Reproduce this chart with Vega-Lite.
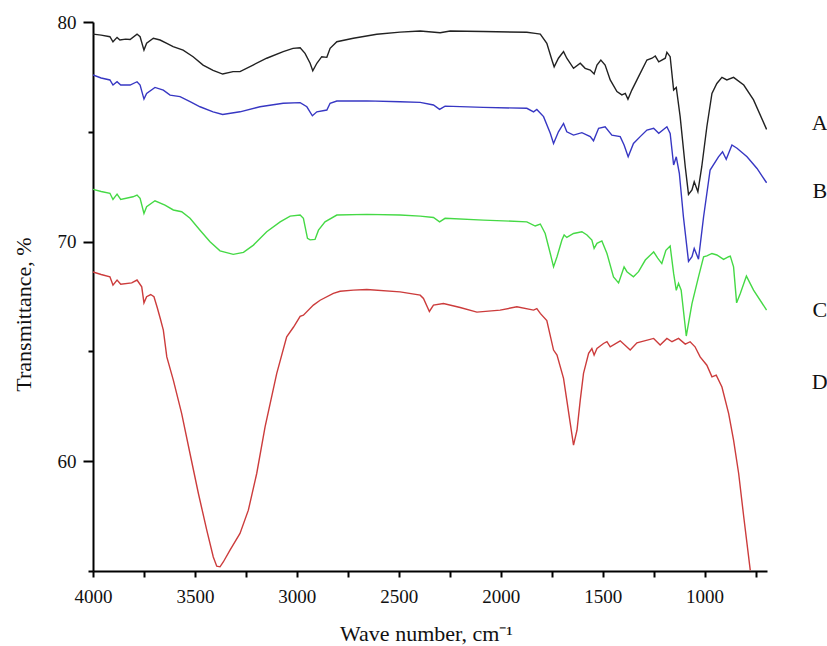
{
  "$schema": "https://vega.github.io/schema/vega-lite/v6.json",
  "width": 674,
  "height": 549,
  "autosize": {"type": "none"},
  "padding": {"left": 93, "top": 22, "right": 60, "bottom": 75},
  "background": "white",
  "config": {
    "view": {"stroke": null},
    "font": "Liberation Serif",
    "axis": {"labelFont": "Liberation Serif", "titleFont": "Liberation Serif"},
    "text": {"font": "Liberation Serif"}
  },
  "datasets": {
    "spectra": [
      {"s":"A","w":4000,"t":79.45},{"s":"A","w":3960,"t":79.40},{"s":"A","w":3917,"t":79.33},{"s":"A","w":3902,"t":79.10},{"s":"A","w":3882,"t":79.30},{"s":"A","w":3868,"t":79.18},{"s":"A","w":3840,"t":79.22},{"s":"A","w":3818,"t":79.20},{"s":"A","w":3784,"t":79.45},{"s":"A","w":3769,"t":79.33},{"s":"A","w":3750,"t":78.72},{"s":"A","w":3737,"t":79.03},{"s":"A","w":3704,"t":79.26},{"s":"A","w":3671,"t":79.18},{"s":"A","w":3638,"t":79.03},{"s":"A","w":3607,"t":78.88},{"s":"A","w":3558,"t":78.72},{"s":"A","w":3509,"t":78.42},{"s":"A","w":3460,"t":78.04},{"s":"A","w":3411,"t":77.80},{"s":"A","w":3364,"t":77.63},{"s":"A","w":3313,"t":77.74},{"s":"A","w":3279,"t":77.74},{"s":"A","w":3215,"t":78.04},{"s":"A","w":3148,"t":78.35},{"s":"A","w":3067,"t":78.65},{"s":"A","w":3019,"t":78.80},{"s":"A","w":2984,"t":78.83},{"s":"A","w":2960,"t":78.57},{"s":"A","w":2935,"t":78.12},{"s":"A","w":2922,"t":77.78},{"s":"A","w":2902,"t":78.12},{"s":"A","w":2878,"t":78.42},{"s":"A","w":2853,"t":78.39},{"s":"A","w":2837,"t":78.80},{"s":"A","w":2804,"t":79.10},{"s":"A","w":2723,"t":79.26},{"s":"A","w":2608,"t":79.44},{"s":"A","w":2494,"t":79.54},{"s":"A","w":2395,"t":79.59},{"s":"A","w":2297,"t":79.51},{"s":"A","w":2248,"t":79.59},{"s":"A","w":2086,"t":79.57},{"s":"A","w":1872,"t":79.53},{"s":"A","w":1831,"t":79.48},{"s":"A","w":1806,"t":79.45},{"s":"A","w":1774,"t":79.03},{"s":"A","w":1749,"t":78.27},{"s":"A","w":1738,"t":77.96},{"s":"A","w":1717,"t":78.35},{"s":"A","w":1692,"t":78.65},{"s":"A","w":1676,"t":78.35},{"s":"A","w":1643,"t":77.89},{"s":"A","w":1610,"t":78.12},{"s":"A","w":1586,"t":77.89},{"s":"A","w":1561,"t":77.81},{"s":"A","w":1542,"t":77.63},{"s":"A","w":1528,"t":78.04},{"s":"A","w":1509,"t":78.27},{"s":"A","w":1488,"t":78.04},{"s":"A","w":1463,"t":77.36},{"s":"A","w":1430,"t":76.83},{"s":"A","w":1406,"t":76.68},{"s":"A","w":1389,"t":76.75},{"s":"A","w":1376,"t":76.48},{"s":"A","w":1357,"t":76.90},{"s":"A","w":1324,"t":77.51},{"s":"A","w":1283,"t":78.27},{"s":"A","w":1258,"t":78.35},{"s":"A","w":1242,"t":78.45},{"s":"A","w":1225,"t":78.19},{"s":"A","w":1193,"t":78.35},{"s":"A","w":1185,"t":78.62},{"s":"A","w":1169,"t":78.42},{"s":"A","w":1152,"t":76.90},{"s":"A","w":1139,"t":77.02},{"s":"A","w":1120,"t":75.69},{"s":"A","w":1095,"t":73.41},{"s":"A","w":1079,"t":72.15},{"s":"A","w":1062,"t":72.35},{"s":"A","w":1051,"t":72.72},{"s":"A","w":1033,"t":72.27},{"s":"A","w":1014,"t":73.41},{"s":"A","w":989,"t":75.23},{"s":"A","w":964,"t":76.75},{"s":"A","w":940,"t":77.20},{"s":"A","w":915,"t":77.48},{"s":"A","w":891,"t":77.36},{"s":"A","w":858,"t":77.48},{"s":"A","w":808,"t":77.13},{"s":"A","w":760,"t":76.45},{"s":"A","w":696,"t":75.11},
      {"s":"B","w":4000,"t":77.59},{"s":"B","w":3960,"t":77.45},{"s":"B","w":3917,"t":77.36},{"s":"B","w":3902,"t":77.13},{"s":"B","w":3882,"t":77.28},{"s":"B","w":3864,"t":77.13},{"s":"B","w":3818,"t":77.13},{"s":"B","w":3784,"t":77.28},{"s":"B","w":3769,"t":77.13},{"s":"B","w":3750,"t":76.49},{"s":"B","w":3737,"t":76.75},{"s":"B","w":3696,"t":77.02},{"s":"B","w":3655,"t":76.90},{"s":"B","w":3622,"t":76.67},{"s":"B","w":3573,"t":76.60},{"s":"B","w":3524,"t":76.37},{"s":"B","w":3475,"t":76.14},{"s":"B","w":3411,"t":75.91},{"s":"B","w":3364,"t":75.79},{"s":"B","w":3279,"t":75.91},{"s":"B","w":3181,"t":76.14},{"s":"B","w":3067,"t":76.30},{"s":"B","w":2984,"t":76.33},{"s":"B","w":2951,"t":76.14},{"s":"B","w":2924,"t":75.73},{"s":"B","w":2902,"t":75.91},{"s":"B","w":2853,"t":75.99},{"s":"B","w":2837,"t":76.30},{"s":"B","w":2804,"t":76.40},{"s":"B","w":2657,"t":76.41},{"s":"B","w":2494,"t":76.37},{"s":"B","w":2395,"t":76.34},{"s":"B","w":2330,"t":76.22},{"s":"B","w":2300,"t":76.02},{"s":"B","w":2273,"t":76.17},{"s":"B","w":2085,"t":76.11},{"s":"B","w":1872,"t":76.07},{"s":"B","w":1839,"t":75.91},{"s":"B","w":1823,"t":76.02},{"s":"B","w":1790,"t":75.69},{"s":"B","w":1757,"t":74.93},{"s":"B","w":1741,"t":74.47},{"s":"B","w":1717,"t":75.00},{"s":"B","w":1692,"t":75.38},{"s":"B","w":1676,"t":75.00},{"s":"B","w":1643,"t":74.85},{"s":"B","w":1602,"t":74.96},{"s":"B","w":1561,"t":74.78},{"s":"B","w":1545,"t":74.59},{"s":"B","w":1520,"t":75.16},{"s":"B","w":1488,"t":75.23},{"s":"B","w":1455,"t":74.85},{"s":"B","w":1414,"t":74.78},{"s":"B","w":1395,"t":74.40},{"s":"B","w":1375,"t":73.86},{"s":"B","w":1349,"t":74.47},{"s":"B","w":1316,"t":74.78},{"s":"B","w":1283,"t":75.08},{"s":"B","w":1250,"t":75.16},{"s":"B","w":1225,"t":74.93},{"s":"B","w":1185,"t":75.23},{"s":"B","w":1169,"t":74.93},{"s":"B","w":1152,"t":73.49},{"s":"B","w":1139,"t":73.86},{"s":"B","w":1124,"t":73.11},{"s":"B","w":1104,"t":71.13},{"s":"B","w":1079,"t":69.10},{"s":"B","w":1062,"t":69.31},{"s":"B","w":1051,"t":69.69},{"s":"B","w":1030,"t":69.20},{"s":"B","w":1005,"t":71.13},{"s":"B","w":973,"t":73.26},{"s":"B","w":932,"t":73.86},{"s":"B","w":912,"t":74.09},{"s":"B","w":894,"t":73.75},{"s":"B","w":866,"t":74.40},{"s":"B","w":841,"t":74.25},{"s":"B","w":792,"t":73.86},{"s":"B","w":743,"t":73.33},{"s":"B","w":696,"t":72.68},
      {"s":"C","w":4000,"t":72.38},{"s":"C","w":3960,"t":72.28},{"s":"C","w":3917,"t":72.20},{"s":"C","w":3902,"t":71.92},{"s":"C","w":3882,"t":72.16},{"s":"C","w":3864,"t":71.92},{"s":"C","w":3804,"t":72.04},{"s":"C","w":3784,"t":72.12},{"s":"C","w":3769,"t":71.97},{"s":"C","w":3750,"t":71.28},{"s":"C","w":3737,"t":71.59},{"s":"C","w":3696,"t":71.86},{"s":"C","w":3647,"t":71.66},{"s":"C","w":3606,"t":71.44},{"s":"C","w":3565,"t":71.36},{"s":"C","w":3524,"t":71.06},{"s":"C","w":3475,"t":70.52},{"s":"C","w":3426,"t":69.99},{"s":"C","w":3377,"t":69.58},{"s":"C","w":3312,"t":69.42},{"s":"C","w":3262,"t":69.51},{"s":"C","w":3213,"t":69.84},{"s":"C","w":3148,"t":70.45},{"s":"C","w":3082,"t":70.90},{"s":"C","w":3033,"t":71.16},{"s":"C","w":2984,"t":71.21},{"s":"C","w":2968,"t":71.06},{"s":"C","w":2948,"t":70.15},{"s":"C","w":2935,"t":70.08},{"s":"C","w":2911,"t":70.10},{"s":"C","w":2894,"t":70.52},{"s":"C","w":2862,"t":70.90},{"s":"C","w":2804,"t":71.21},{"s":"C","w":2657,"t":71.24},{"s":"C","w":2494,"t":71.21},{"s":"C","w":2395,"t":71.16},{"s":"C","w":2330,"t":71.10},{"s":"C","w":2300,"t":70.90},{"s":"C","w":2273,"t":71.06},{"s":"C","w":2085,"t":70.98},{"s":"C","w":1872,"t":70.90},{"s":"C","w":1831,"t":70.71},{"s":"C","w":1806,"t":70.80},{"s":"C","w":1782,"t":70.37},{"s":"C","w":1757,"t":69.46},{"s":"C","w":1741,"t":68.85},{"s":"C","w":1724,"t":69.31},{"s":"C","w":1700,"t":70.07},{"s":"C","w":1689,"t":70.30},{"s":"C","w":1676,"t":70.19},{"s":"C","w":1643,"t":70.37},{"s":"C","w":1602,"t":70.45},{"s":"C","w":1577,"t":70.30},{"s":"C","w":1553,"t":70.07},{"s":"C","w":1542,"t":69.69},{"s":"C","w":1528,"t":69.92},{"s":"C","w":1504,"t":70.03},{"s":"C","w":1479,"t":69.46},{"s":"C","w":1447,"t":68.39},{"s":"C","w":1422,"t":68.12},{"s":"C","w":1406,"t":68.55},{"s":"C","w":1395,"t":68.85},{"s":"C","w":1381,"t":68.63},{"s":"C","w":1349,"t":68.40},{"s":"C","w":1324,"t":68.63},{"s":"C","w":1291,"t":69.16},{"s":"C","w":1258,"t":69.46},{"s":"C","w":1250,"t":69.53},{"s":"C","w":1230,"t":69.25},{"s":"C","w":1210,"t":69.00},{"s":"C","w":1190,"t":69.60},{"s":"C","w":1169,"t":69.80},{"s":"C","w":1152,"t":68.55},{"s":"C","w":1139,"t":67.78},{"s":"C","w":1128,"t":68.10},{"s":"C","w":1115,"t":67.79},{"s":"C","w":1090,"t":65.70},{"s":"C","w":1062,"t":67.18},{"s":"C","w":1030,"t":68.39},{"s":"C","w":1005,"t":69.31},{"s":"C","w":989,"t":69.35},{"s":"C","w":964,"t":69.46},{"s":"C","w":940,"t":69.39},{"s":"C","w":907,"t":69.19},{"s":"C","w":882,"t":69.31},{"s":"C","w":874,"t":69.34},{"s":"C","w":858,"t":68.85},{"s":"C","w":843,"t":67.21},{"s":"C","w":825,"t":67.64},{"s":"C","w":795,"t":68.43},{"s":"C","w":760,"t":67.79},{"s":"C","w":696,"t":66.88},
      {"s":"D","w":4000,"t":68.62},{"s":"D","w":3960,"t":68.50},{"s":"D","w":3917,"t":68.40},{"s":"D","w":3902,"t":68.02},{"s":"D","w":3882,"t":68.25},{"s":"D","w":3864,"t":68.06},{"s":"D","w":3810,"t":68.12},{"s":"D","w":3784,"t":68.25},{"s":"D","w":3761,"t":67.94},{"s":"D","w":3750,"t":67.21},{"s":"D","w":3737,"t":67.49},{"s":"D","w":3717,"t":67.59},{"s":"D","w":3701,"t":67.49},{"s":"D","w":3685,"t":67.00},{"s":"D","w":3670,"t":66.50},{"s":"D","w":3655,"t":65.97},{"s":"D","w":3638,"t":64.75},{"s":"D","w":3606,"t":63.69},{"s":"D","w":3565,"t":62.17},{"s":"D","w":3524,"t":60.34},{"s":"D","w":3483,"t":58.53},{"s":"D","w":3442,"t":56.86},{"s":"D","w":3410,"t":55.64},{"s":"D","w":3393,"t":55.22},{"s":"D","w":3377,"t":55.19},{"s":"D","w":3361,"t":55.41},{"s":"D","w":3328,"t":55.95},{"s":"D","w":3279,"t":56.71},{"s":"D","w":3238,"t":57.77},{"s":"D","w":3197,"t":59.44},{"s":"D","w":3156,"t":61.56},{"s":"D","w":3099,"t":63.99},{"s":"D","w":3050,"t":65.66},{"s":"D","w":3017,"t":66.10},{"s":"D","w":2984,"t":66.60},{"s":"D","w":2968,"t":66.65},{"s":"D","w":2919,"t":67.11},{"s":"D","w":2886,"t":67.33},{"s":"D","w":2821,"t":67.64},{"s":"D","w":2788,"t":67.74},{"s":"D","w":2723,"t":67.79},{"s":"D","w":2657,"t":67.82},{"s":"D","w":2494,"t":67.71},{"s":"D","w":2395,"t":67.56},{"s":"D","w":2379,"t":67.41},{"s":"D","w":2350,"t":66.82},{"s":"D","w":2330,"t":67.11},{"s":"D","w":2281,"t":67.18},{"s":"D","w":2199,"t":67.00},{"s":"D","w":2117,"t":66.79},{"s":"D","w":2003,"t":66.88},{"s":"D","w":1921,"t":67.03},{"s":"D","w":1839,"t":66.88},{"s":"D","w":1823,"t":66.95},{"s":"D","w":1806,"t":66.73},{"s":"D","w":1774,"t":66.40},{"s":"D","w":1741,"t":65.06},{"s":"D","w":1724,"t":64.83},{"s":"D","w":1692,"t":63.77},{"s":"D","w":1676,"t":62.78},{"s":"D","w":1659,"t":61.72},{"s":"D","w":1643,"t":60.73},{"s":"D","w":1626,"t":61.41},{"s":"D","w":1610,"t":62.78},{"s":"D","w":1594,"t":64.00},{"s":"D","w":1569,"t":64.91},{"s":"D","w":1553,"t":65.13},{"s":"D","w":1542,"t":64.83},{"s":"D","w":1528,"t":65.13},{"s":"D","w":1496,"t":65.36},{"s":"D","w":1479,"t":65.44},{"s":"D","w":1463,"t":65.21},{"s":"D","w":1414,"t":65.48},{"s":"D","w":1365,"t":65.06},{"s":"D","w":1332,"t":65.39},{"s":"D","w":1250,"t":65.59},{"s":"D","w":1218,"t":65.29},{"s":"D","w":1185,"t":65.59},{"s":"D","w":1160,"t":65.44},{"s":"D","w":1128,"t":65.59},{"s":"D","w":1095,"t":65.33},{"s":"D","w":1071,"t":65.44},{"s":"D","w":1047,"t":65.21},{"s":"D","w":1022,"t":64.75},{"s":"D","w":989,"t":64.37},{"s":"D","w":964,"t":63.84},{"s":"D","w":943,"t":63.92},{"s":"D","w":915,"t":63.38},{"s":"D","w":882,"t":62.17},{"s":"D","w":858,"t":60.96},{"s":"D","w":833,"t":59.44},{"s":"D","w":808,"t":57.46},{"s":"D","w":776,"t":55.03}
    ],
    "labels": [
      {"s":"A","w":435,"t":75.38},
      {"s":"B","w":435,"t":72.30},
      {"s":"C","w":435,"t":66.88},
      {"s":"D","w":435,"t":63.60}
    ]
  },
  "layer": [
    {
      "data": {"name": "spectra"},
      "mark": {"type": "line", "strokeWidth": 1.4, "clip": true},
      "encoding": {
        "x": {
          "field": "w", "type": "quantitative",
          "scale": {"domain": [694, 4000], "reverse": true, "nice": false, "zero": false},
          "axis": {
            "values": [4000, 3750, 3500, 3250, 3000, 2750, 2500, 2250, 2000, 1750, 1500, 1250, 1000, 750],
            "format": "d",
            "labelExpr": "datum.value % 500 === 0 ? datum.label : ''",
            "labelOverlap": false, "labelFlush": false,
            "title": "Wave number, cm⁻¹",
            "grid": false,
            "domainColor": "#000", "domainWidth": 2,
            "tickColor": "#000", "tickWidth": 2, "tickSize": 6,
            "labelFont": "Liberation Serif", "labelFontSize": 19, "labelColor": "#111", "labelPadding": 10,
            "titleFont": "Liberation Serif", "titleFontSize": 22, "titleFontWeight": "normal", "titleColor": "#111",
            "titleX": 333, "titleY": 62, "titleBaseline": "middle"
          }
        },
        "y": {
          "field": "t", "type": "quantitative",
          "scale": {"domain": [55, 80], "nice": false, "zero": false},
          "axis": {
            "values": [55, 60, 65, 70, 75, 80],
            "labelExpr": "datum.value % 10 === 0 ? datum.label : ''",
            "labelOverlap": false, "labelFlush": false,
            "title": "Transmittance, %",
            "grid": false,
            "domainColor": "#000", "domainWidth": 2,
            "tickColor": "#000", "tickWidth": 2,
            "tickSize": {"condition": {"test": "datum.value % 10 === 0", "value": 10}, "value": 5},
            "labelFont": "Liberation Serif", "labelFontSize": 19, "labelColor": "#111", "labelPadding": 7,
            "titleFont": "Liberation Serif", "titleFontSize": 22, "titleFontWeight": "normal", "titleColor": "#111",
            "titleX": -70, "titleY": 292, "titleBaseline": "middle", "titleAlign": "center"
          }
        },
        "color": {
          "field": "s", "type": "nominal",
          "scale": {"domain": ["A", "B", "C", "D"], "range": ["#222222", "#3737c3", "#45d945", "#cc3c3c"]},
          "legend": null
        }
      }
    },
    {
      "data": {"name": "labels"},
      "mark": {"type": "text", "fontSize": 22, "font": "Liberation Serif", "align": "center", "baseline": "middle", "color": "#111"},
      "encoding": {
        "x": {"field": "w", "type": "quantitative"},
        "y": {"field": "t", "type": "quantitative"},
        "text": {"field": "s"}
      }
    }
  ]
}
